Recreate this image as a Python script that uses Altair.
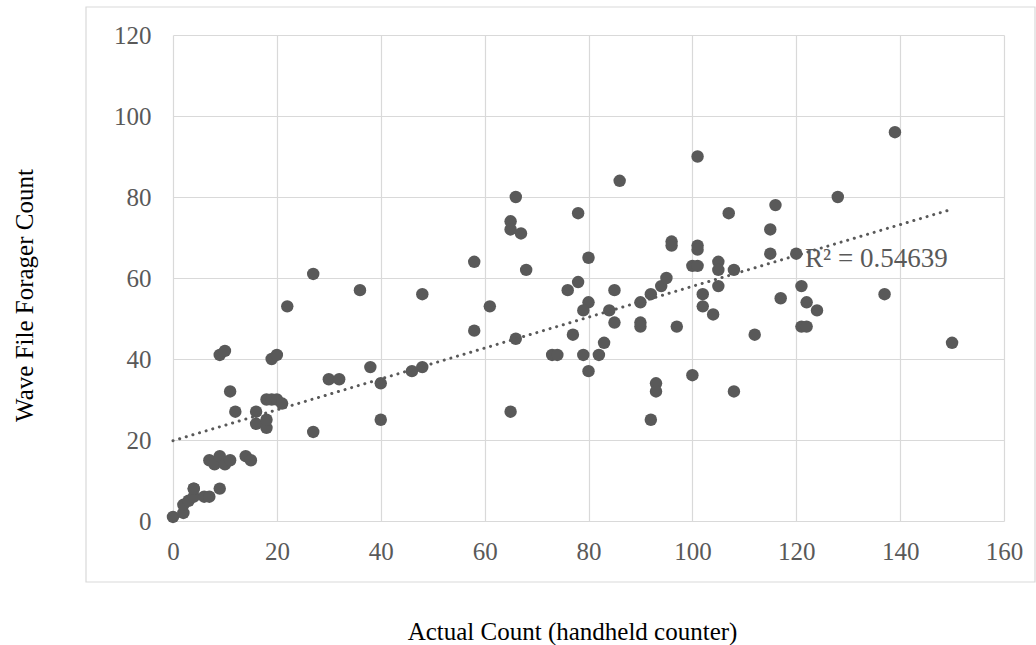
import altair as alt
import pandas as pd

actual = [0, 2, 2, 3, 4, 4, 6, 7, 4, 9,
          7, 8, 9, 10, 11, 14, 15,
          16, 16, 18, 18, 18, 19, 20, 21, 12, 11,
          9, 10, 19, 20, 22, 27, 27, 30, 32, 36, 38, 40, 40, 46, 48, 48,
          58, 58, 61, 65, 65, 67, 66, 66, 65, 68, 78, 80, 76, 78, 80, 79,
          85, 84, 85, 77, 73, 74, 79, 80, 82, 83, 86, 90, 92, 94, 95, 90, 90,
          97, 93, 93, 92, 100, 101, 96, 96, 101, 101, 100, 101, 105, 105, 108,
          105, 102, 102, 104, 107, 116, 128, 115, 115, 120, 112, 121, 117, 122,
          124, 121, 122, 108, 139, 137, 150]
wave = [1, 2, 4, 5, 6, 8, 6, 6, 8, 8,
        15, 14, 16, 14, 15, 16, 15,
        24, 27, 23, 25, 30, 30, 30, 29, 27, 32,
        41, 42, 40, 41, 53, 61, 22, 35, 35, 57, 38, 34, 25, 37, 38, 56,
        64, 47, 53, 74, 72, 71, 80, 45, 27, 62, 76, 65, 57, 59, 54, 52,
        57, 52, 49, 46, 41, 41, 41, 37, 41, 44, 84, 54, 56, 58, 60, 49, 48,
        48, 34, 32, 25, 36, 90, 69, 68, 68, 67, 63, 63, 64, 62, 62,
        58, 56, 53, 51, 76, 78, 80, 72, 66, 66, 46, 58, 55, 54,
        52, 48, 48, 32, 96, 56, 44]

x_ticks = [0, 20, 40, 60, 80, 100, 120, 140, 160]
y_ticks = [0, 20, 40, 60, 80, 100, 120]
r2_text = ["R\u00b2 = 0.54639"]
r2_x = [121.7]
r2_y = [62.7]

df = pd.DataFrame({"actual": actual, "wave": wave})

W, H = 831, 486
FONT = "Liberation Serif"
GRAY = "#595959"

xscale = alt.Scale(domain=[0, 160], nice=False, zero=True)
yscale = alt.Scale(domain=[0, 120], nice=False, zero=True)

border = alt.Chart(pd.DataFrame({"a": [0]})).mark_rect(
    fillOpacity=0, stroke="#d9d9d9", strokeWidth=1.2
).encode(
    x=alt.value(-87), x2=alt.value(862), y=alt.value(-28), y2=alt.value(547)
)

points = alt.Chart(df).mark_circle(size=155, color=GRAY, opacity=1).encode(
    x=alt.X("actual:Q", scale=xscale,
            axis=alt.Axis(values=x_ticks, title="Actual Count (handheld counter)",
                          titleX=399, titleY=118, titleBaseline="alphabetic",
                          labelPadding=18, labelFlush=False)),
    y=alt.Y("wave:Q", scale=yscale,
            axis=alt.Axis(values=y_ticks, title="Wave File Forager Count",
                          titleX=-149, titleY=260, titleBaseline="middle",
                          titleAngle=-90, labelPadding=22, labelFlush=False)),
)

trend = alt.Chart(df).transform_regression("actual", "wave").mark_line(
    color=GRAY, strokeWidth=3, strokeDash=[0.1, 6.8], strokeCap="round"
).encode(x=alt.X("actual:Q", scale=xscale), y=alt.Y("wave:Q", scale=yscale))

label = alt.Chart(pd.DataFrame({"x": r2_x, "y": r2_y, "t": r2_text})).mark_text(
    align="left", baseline="alphabetic", font=FONT, fontSize=27, color=GRAY
).encode(x=alt.X("x:Q", scale=xscale), y=alt.Y("y:Q", scale=yscale), text="t:N")

chart = alt.layer(border, points, trend, label).properties(
    width=W, height=H,
    autosize=alt.AutoSizeParams(type="none"),
    padding={"left": 173, "top": 35, "right": 32, "bottom": 124},
).configure_view(strokeWidth=0).configure_axis(
    grid=True, gridColor="#d9d9d9", gridWidth=1.2, domain=False, ticks=False,
    labelFont=FONT, labelFontSize=25, labelColor=GRAY,
    titleFont=FONT, titleFontSize=25, titleColor="#000000", titleFontWeight="normal",
)

chart.save("out.html", embed_options={"renderer": "svg", "actions": False})
